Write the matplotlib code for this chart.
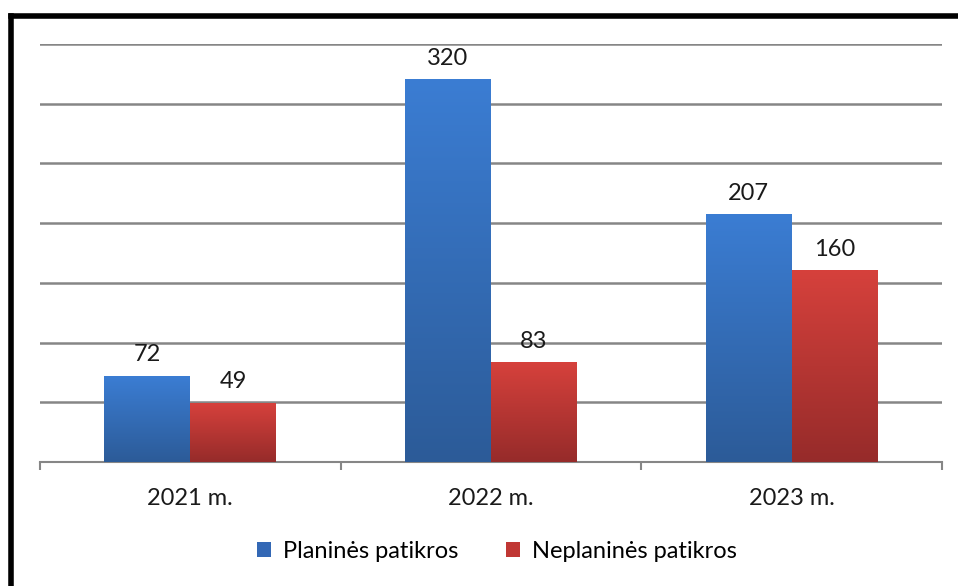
import matplotlib.pyplot as plt
import numpy as np
from matplotlib.colors import LinearSegmentedColormap
from matplotlib.patches import Patch
from matplotlib.lines import Line2D

plt.rcParams['font.family'] = ['Lato', 'DejaVu Sans']

years = ['2021 m.', '2022 m.', '2023 m.']
planines = [72, 320, 207]
neplanines = [49, 83, 160]
series_names = ['Planinės patikros', 'Neplaninės patikros']

fig = plt.figure(figsize=(9.58, 5.86), dpi=100)
ax = fig.add_axes([40 / 958, 124 / 586, 902 / 958, 418 / 586])

x = np.arange(len(years))
w = 0.286

blue_cmap = LinearSegmentedColormap.from_list('b', ['#2c5b98', '#3b7dd3'])
red_cmap = LinearSegmentedColormap.from_list('r', ['#962b2a', '#d6413c'])

bars1 = ax.bar(x - w / 2, planines, w, color='none', zorder=3)
bars2 = ax.bar(x + w / 2, neplanines, w, color='none', zorder=3)

# gradient fill inside each bar
grad = np.linspace(0, 1, 256).reshape(-1, 1)
for bars, cmap in [(bars1, blue_cmap), (bars2, red_cmap)]:
    for b in bars:
        x0, y0 = b.get_x(), b.get_y()
        ax.imshow(grad, cmap=cmap, aspect='auto', origin='lower',
                  extent=[x0, x0 + b.get_width(), y0, y0 + b.get_height()],
                  zorder=3)

for bars, vals in [(bars1, planines), (bars2, neplanines)]:
    for b, v in zip(bars, vals):
        ax.annotate(str(v), (b.get_x() + b.get_width() / 2, v),
                    xytext=(0, 8), textcoords='offset points',
                    ha='center', va='bottom', fontsize=17, color='#1a1a1a')

ax.set_xlim(-0.5, 2.5)
ax.set_ylim(0, 350)
ax.set_yticks(np.arange(50, 351, 50))
ax.yaxis.grid(True, color='#868686', linewidth=1.8)
ax.set_axisbelow(True)
ax.tick_params(axis='y', left=False, labelleft=False)

ax.set_xticks(x)
ax.set_xticklabels(years, fontsize=17, color='#1a1a1a')
ax.set_xticks([-0.5, 0.5, 1.5, 2.5], minor=True)
ax.tick_params(axis='x', which='major', length=0, pad=19)
ax.tick_params(axis='x', which='minor', length=6, width=1.5, color='#868686')

for s in ['top', 'right', 'left']:
    ax.spines[s].set_visible(False)
ax.spines['bottom'].set_color('#868686')
ax.spines['bottom'].set_linewidth(1.5)

handles = [Patch(facecolor='#3368b5'), Patch(facecolor='#c03734')]
fig.legend(handles, series_names, loc='center', bbox_to_anchor=(497 / 958, 1 - 551 / 586),
           ncol=2, frameon=False, fontsize=17, handlelength=0.6, handleheight=0.6,
           handletextpad=0.5, columnspacing=2.0)

# black border on top and left
fig.add_artist(Line2D([10.5 / 958, 10.5 / 958], [0, 1 - 15.5 / 586], color='black', linewidth=4,
                      transform=fig.transFigure, solid_capstyle='projecting'))
fig.add_artist(Line2D([10.5 / 958, 1], [1 - 15.5 / 586, 1 - 15.5 / 586], color='black', linewidth=4,
                      transform=fig.transFigure, solid_capstyle='projecting'))

fig.savefig('out.png', dpi=100)
